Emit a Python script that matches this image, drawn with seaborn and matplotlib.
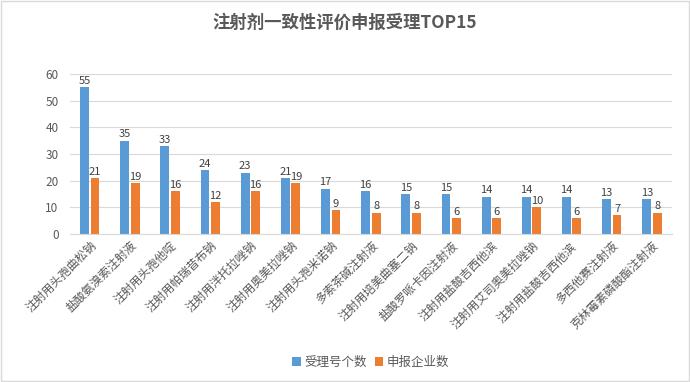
import pandas as pd
import matplotlib.pyplot as plt
import seaborn as sns

drugs = ['注射用头孢曲松钠', '盐酸氨溴索注射液', '注射用头孢他啶', '注射用帕瑞昔布钠',
         '注射用泮托拉唑钠', '注射用奥美拉唑钠', '注射用头孢米诺钠', '多索茶碱注射液',
         '注射用培美曲塞二钠', '盐酸罗哌卡因注射液', '注射用盐酸吉西他滨', '注射用艾司奥美拉唑钠',
         '注射用盐酸吉西他滨 ', '多西他赛注射液', '克林霉素磷酸酯注射液']
accept_nums = [55, 35, 33, 24, 23, 21, 17, 16, 15, 15, 14, 14, 14, 13, 13]
company_nums = [21, 19, 16, 12, 16, 19, 9, 8, 8, 6, 6, 10, 6, 7, 8]
series = ['受理号个数', '申报企业数']

df = pd.DataFrame({'药品': drugs * 2,
                   '数量': accept_nums + company_nums,
                   '类别': [series[0]] * len(drugs) + [series[1]] * len(drugs)})

sns.set_style('white')
plt.rcParams['font.family'] = ['Noto Sans CJK SC', 'DejaVu Sans']

fig = plt.figure(figsize=(6.9, 3.82), dpi=100)
ax = fig.add_axes([0.101, 0.387, 0.873, 0.419])
sns.barplot(data=df, x='药品', y='数量', hue='类别', order=drugs,
            palette=['#5B9BD5', '#ED7D31'], width=0.52, gap=0.15,
            saturation=1, linewidth=0, ax=ax)

for c in ax.containers:
    ax.bar_label(c, fontsize=8, color='#404040', padding=1)

ax.set_ylim(0, 60)
ax.set_yticks(range(0, 61, 10))
ax.yaxis.grid(True, color='#D9D9D9', linewidth=0.8)
ax.set_axisbelow(True)
for s in ['top', 'right', 'left']:
    ax.spines[s].set_visible(False)
ax.spines['bottom'].set_color('#D9D9D9')
ax.tick_params(axis='both', length=0, labelsize=8.5, colors='#595959')
ax.tick_params(axis='y', pad=8)
ax.set_xlabel('')
ax.set_ylabel('')
plt.setp(ax.get_xticklabels(), rotation=45, ha='right', va='top', rotation_mode='anchor')

fig.suptitle('注射剂一致性评价申报受理TOP15', y=0.965, fontsize=12.5,
             fontweight='bold', color='#595959')

ax.legend(loc='center', bbox_to_anchor=(0.5, -0.8), ncol=2, frameon=False,
          fontsize=9, handlelength=0.7, handleheight=0.7, handletextpad=0.3,
          columnspacing=0.6, labelcolor='#595959')

fig.patches.append(plt.Rectangle((0.002, 0.002), 0.996, 0.996, transform=fig.transFigure,
                                 fill=False, edgecolor='#D9D9D9', linewidth=1))
fig.savefig('out.png', dpi=100)
